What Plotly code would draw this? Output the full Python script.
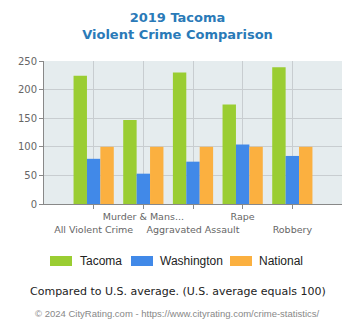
import plotly.graph_objects as go

categories = ["All Violent Crime", "Murder & Mans...", "Aggravated Assault", "Rape", "Robbery"]
tick_labels = ["<br>All Violent Crime", "Murder & Mans...", "<br>Aggravated Assault", "Rape", "<br>Robbery"]
tacoma = [224, 147, 230, 174, 239]
washington = [79, 53, 74, 104, 84]
national = [100, 100, 100, 100, 100]

series = [("Tacoma", tacoma, "#9acd32"), ("Washington", washington, "#4189e8"), ("National", national, "#fbb040")]

fig = go.Figure()
for name, vals, col in series:
    fig.add_trace(go.Bar(x=list(range(len(categories))), y=vals, name=name,
                         marker=dict(color=col, line=dict(width=0)), showlegend=False))

fig.update_layout(
    width=355, height=330,
    margin=dict(l=44, r=13, t=61, b=126, autoexpand=False),
    paper_bgcolor="white", plot_bgcolor="#e5ecee",
    barmode="group", bargap=0.19, bargroupgap=0,
    font=dict(family="DejaVu Sans", size=10, color="#666"),
    title=dict(text="<b>2019 Tacoma<br>Violent Crime Comparison</b>", x=0.5, xanchor="center",
               y=0.933, yanchor="top", font=dict(family="DejaVu Sans", size=13, color="#2a7ab8")),
)
fig.update_xaxes(range=[-1, 5], tickvals=list(range(len(categories))), ticktext=tick_labels,
                 tickangle=0, automargin=False,
                 showgrid=True, gridcolor="#c8cdd0", showline=True, linecolor="#888", linewidth=1,
                 ticks="outside", ticklen=4, tickcolor="#888", tickfont=dict(size=9.5, color="#666"),
                 zeroline=False, fixedrange=True)
fig.update_yaxes(range=[0, 250], dtick=50, showgrid=True, gridcolor="#c8cdd0", showline=True,
                 automargin=False,
                 linecolor="#888", linewidth=1, ticks="outside", ticklen=4, tickcolor="#888",
                 tickfont=dict(size=10, color="#666"), zeroline=False, fixedrange=True)

def py(p):
    return (204 - p) / 143

def px(p):
    return (p - 44) / 298

# custom legend
legend_items = [(50, 78, "Tacoma", "#9acd32"), (131, 158, "Washington", "#4189e8"), (230, 257, "National", "#fbb040")]
for x0, tx, name, col in legend_items:
    fig.add_shape(type="rect", xref="paper", yref="paper",
                  x0=px(x0), x1=px(x0 + 22), y0=py(266), y1=py(256),
                  fillcolor=col, line=dict(width=0))
    fig.add_annotation(xref="paper", yref="paper", x=px(tx), y=py(261),
                       text=name, showarrow=False, xanchor="left", yanchor="middle",
                       font=dict(family="Liberation Sans", size=12, color="#222"))

fig.add_annotation(xref="paper", yref="paper", x=px(178), y=py(291),
                   text="Compared to U.S. average. (U.S. average equals 100)", showarrow=False,
                   xanchor="center", yanchor="middle",
                   font=dict(family="DejaVu Sans", size=11, color="#222"))
fig.add_annotation(xref="paper", yref="paper", x=px(177), y=py(313),
                   text="© 2024 CityRating.com - https://www.cityrating.com/crime-statistics/", showarrow=False,
                   xanchor="center", yanchor="middle",
                   font=dict(family="Liberation Sans", size=9.5, color="#888"))

fig.write_html("out.html")
